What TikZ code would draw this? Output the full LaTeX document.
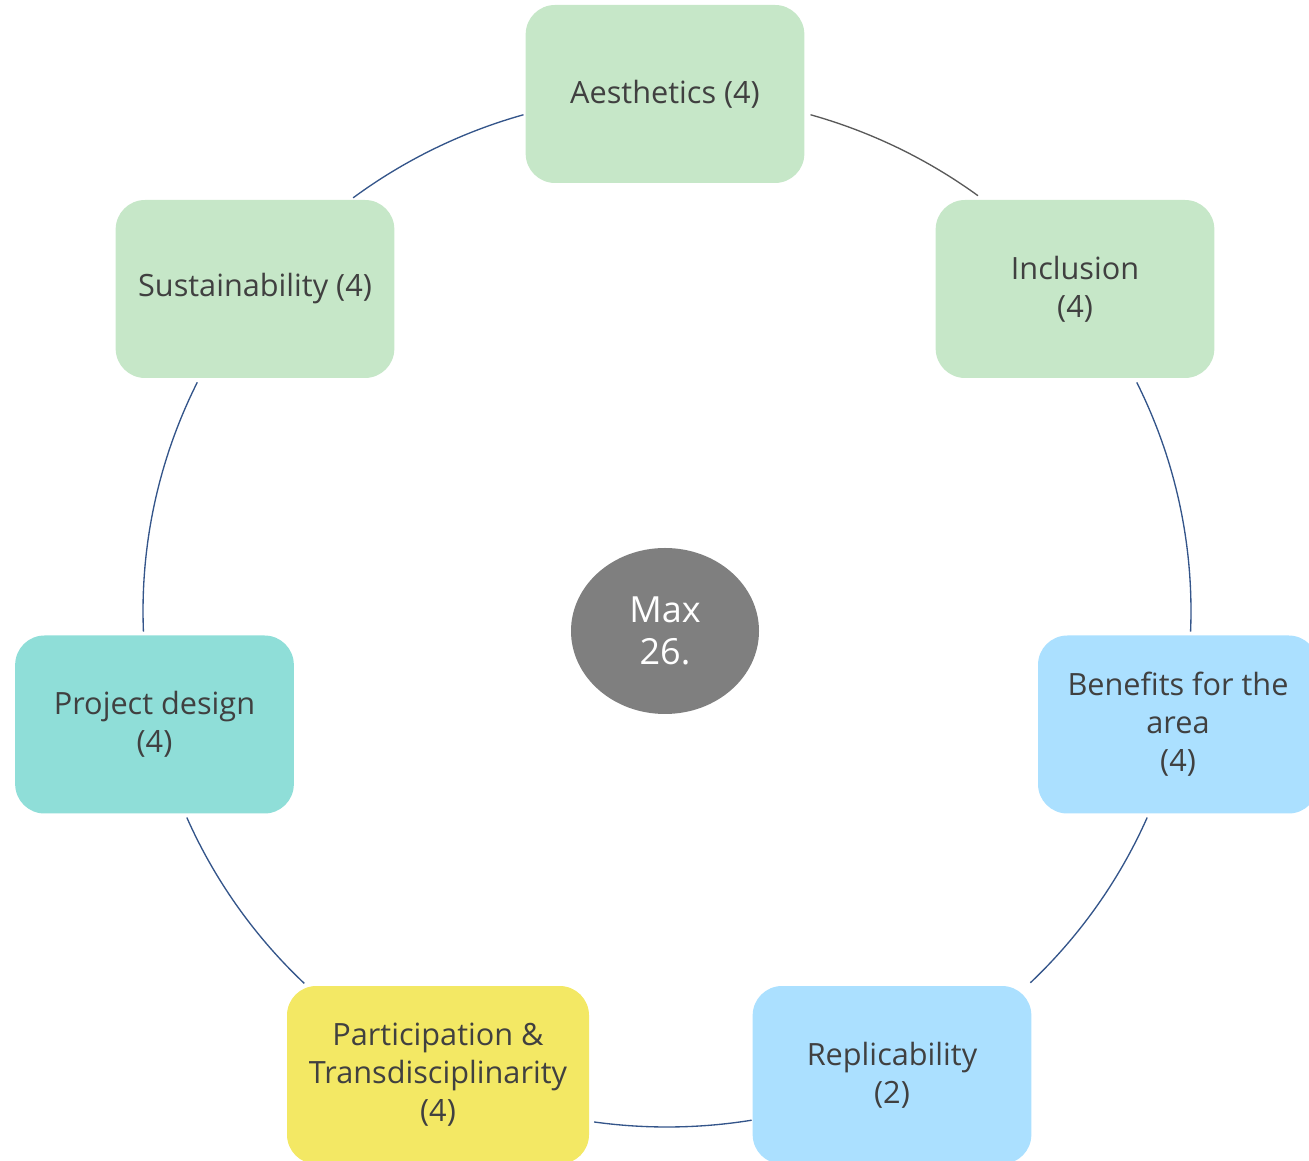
\documentclass[tikz,border=0pt]{standalone}
\usepackage{fontspec}
\setmainfont{Open Sans}
\usetikzlibrary{shapes.geometric}
\definecolor{boxgreen}{HTML}{C6E7C8}
\definecolor{boxteal}{HTML}{8FDED8}
\definecolor{boxblue}{HTML}{ABE0FF}
\definecolor{boxyellow}{HTML}{F3E864}
\definecolor{centergray}{HTML}{7F7F7F}
\definecolor{textgray}{HTML}{404040}
\definecolor{ringblue}{HTML}{34558A}
\definecolor{ringgray}{HTML}{595959}
\begin{document}
\begin{tikzpicture}[x=0.75pt,y=0.75pt,
  box/.style={rounded corners=22pt, minimum width=209pt, minimum height=133.5pt,
    align=center, text=textgray, font=\fontsize{23}{28.5}\selectfont, inner sep=0pt},
  ring/.style={line width=1pt, draw=ringblue},
  arcr/.style={x radius=393pt, y radius=387pt}]
\useasboundingbox (0,0) rectangle (1309,1160);
\coordinate (C) at (667,549);
% ring segments
\draw[ring, draw=ringgray] ([shift={(74.1:393pt and 387pt)}]C) arc[start angle=74.1, end angle=53.6, arcr];
\draw[ring] ([shift={(126.8:393pt and 387pt)}]C) arc[start angle=126.8, end angle=105.9, arcr];
\draw[ring] ([shift={(182.3:393pt and 387pt)}]C) arc[start angle=182.3, end angle=153.7, arcr];
\draw[ring] ([shift={(226.2:393pt and 387pt)}]C) arc[start angle=226.2, end angle=203.6, arcr];
\draw[ring] ([shift={(279.3:393pt and 387pt)}]C) arc[start angle=279.3, end angle=262, arcr];
\draw[ring] ([shift={(336.4:393pt and 387pt)}]C) arc[start angle=336.4, end angle=313.9, arcr];
\draw[ring] ([shift={(26.3:393pt and 387pt)}]C) arc[start angle=26.3, end angle=-2.3, arcr];
% boxes
\node[box, fill=boxgreen] (aes) at (665,1066) {Aesthetics (4)};
\node[box, fill=boxgreen] (inc) at (1075,871) {Inclusion\\(4)};
\node[box, fill=boxblue, minimum width=210pt] (ben) at (1178,435.5) {Benefits for the\\area\\(4)};
\node[box, fill=boxblue] (rep) at (892,85) {Replicability\\(2)};
\node[box, fill=boxyellow, minimum width=226.5pt] (par) at (438,85) {Participation \&\\Transdisciplinarity\\(4)};
\node[box, fill=boxteal] (pro) at (154.5,435.5) {Project design\\(4)};
\node[box, fill=boxgreen] (sus) at (255,871) {Sustainability (4)};
\node[ellipse, fill=centergray, minimum width=141pt, minimum height=124.5pt, inner sep=0pt,
  align=center, text=white, font=\fontsize{27}{31.5}\selectfont] (max) at (665,529) {Max\\26.};
\end{tikzpicture}
\end{document}
